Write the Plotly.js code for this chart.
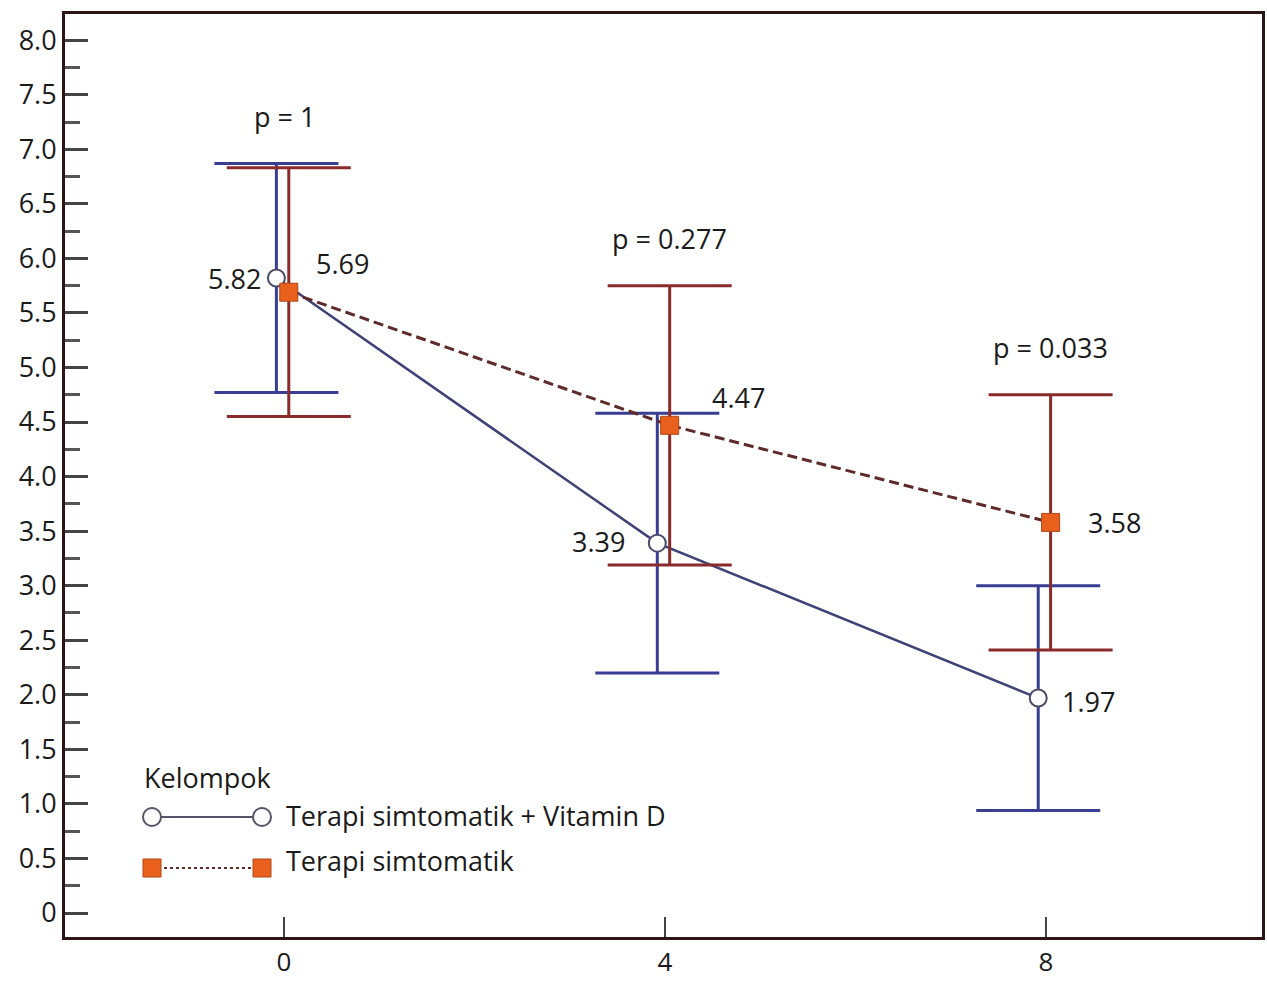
<!DOCTYPE html>
<html>
<head>
<meta charset="utf-8">
<script src="https://cdn.plot.ly/plotly-3.0.1.min.js"></script>
<style>html,body{margin:0;padding:0;background:#fff}#chart{width:1267px;height:982px}</style>
</head>
<body>
<div id="chart"></div>
<script>
// ---- data ----
var weeks = [0, 4, 8];
var groupNames = ["Terapi simtomatik + Vitamin D", "Terapi simtomatik"];
var meanVitD = [5.82, 3.39, 1.97];
var sdVitD = [1.05, 1.19, 1.03];
var meanSym = [5.69, 4.47, 3.58];
var sdSym = [1.14, 1.28, 1.17];
var pValues = ["p = 1", "p = 0.277", "p = 0.033"];
var yTickVals = [0, 0.5, 1, 1.5, 2, 2.5, 3, 3.5, 4, 4.5, 5, 5.5, 6, 6.5, 7, 7.5, 8];
var yTickText = ["0", "0.5", "1.0", "1.5", "2.0", "2.5", "3.0", "3.5", "4.0", "4.5", "5.0", "5.5", "6.0", "6.5", "7.0", "7.5", "8.0"];
var legendTitle = "Kelompok";

// ---- styling ----
var FONT = "Open Sans, Lato, sans-serif";
var FS = 27;
var blueOff = -0.08, orangeOff = 0.05;
var xBlue = weeks.map(function (w) { return w + blueOff; });
var xOrange = weeks.map(function (w) { return w + orangeOff; });
var blueBar = "#3a3d94", orangeBar = "#8a2b2b";
var blueLine = "#3e4275", orangeLine = "#5e2a2a";
var orangeFill = "#e8601c";

var traces = [
  {
    x: xBlue, y: meanVitD, name: groupNames[0], type: "scatter", mode: "lines+markers",
    line: { color: blueLine, width: 2.5 },
    marker: { symbol: "circle", size: 17, color: "#ffffff", line: { color: "#4a4a6a", width: 2 } },
    error_y: { type: "data", array: sdVitD, visible: true, color: blueBar, thickness: 3, width: 62 },
    showlegend: false, hoverinfo: "x+y"
  },
  {
    x: xOrange, y: meanSym, name: groupNames[1], type: "scatter", mode: "lines+markers",
    line: { color: orangeLine, width: 3, dash: "10px,5px" },
    marker: { symbol: "square", size: 18, color: orangeFill, line: { color: "#b0461a", width: 1 } },
    error_y: { type: "data", array: sdSym, visible: true, color: orangeBar, thickness: 3, width: 62 },
    showlegend: false, hoverinfo: "x+y"
  }
];

var annotations = [];
var txtFont = { family: FONT, size: FS, color: "#1a1a1a" };
// value labels
var blueShift = [[-13, 0, "right"], [-30, 2, "right"], [22, -3, "left"]];
var orangeShift = [[25, 29, "left"], [40, 28, "left"], [35, 0, "left"]];
meanVitD.forEach(function (v, i) {
  annotations.push({ x: xBlue[i], y: v, xref: "x", yref: "y", text: v.toFixed(2), showarrow: false,
    xanchor: blueShift[i][2], yanchor: "middle", xshift: blueShift[i][0], yshift: blueShift[i][1], font: txtFont });
});
meanSym.forEach(function (v, i) {
  annotations.push({ x: xOrange[i], y: v, xref: "x", yref: "y", text: v.toFixed(2), showarrow: false,
    xanchor: orangeShift[i][2], yanchor: "middle", xshift: orangeShift[i][0], yshift: orangeShift[i][1], font: txtFont });
});
// p-values above the highest error bar
weeks.forEach(function (w, i) {
  var top = Math.max(meanVitD[i] + sdVitD[i], meanSym[i] + sdSym[i]);
  annotations.push({ x: w + (i === 0 ? 0 : 0.05), y: top, xref: "x", yref: "y", text: pValues[i], showarrow: false,
    xanchor: "center", yanchor: "middle", yshift: 47, font: txtFont });
});

// ---- custom legend (paper coordinates) ----
function px(x) { return (x - 65) / 1197; }
function py(y) { return (937 - y) / 923; }
annotations.push({ x: px(142), y: py(777), xref: "paper", yref: "paper", text: legendTitle, showarrow: false,
  xanchor: "left", yanchor: "middle", font: txtFont });
annotations.push({ x: px(284), y: py(815), xref: "paper", yref: "paper", text: groupNames[0], showarrow: false,
  xanchor: "left", yanchor: "middle", font: txtFont });
annotations.push({ x: px(284), y: py(860), xref: "paper", yref: "paper", text: groupNames[1], showarrow: false,
  xanchor: "left", yanchor: "middle", font: txtFont });

var shapes = [
  { type: "line", xref: "paper", yref: "paper", x0: px(152), x1: px(262), y0: py(817), y1: py(817),
    line: { color: "#55556a", width: 2 } },
  { type: "line", xref: "paper", yref: "paper", x0: px(152), x1: px(262), y0: py(868), y1: py(868),
    line: { color: orangeLine, width: 2, dash: "dot" } }
];
[152, 262].forEach(function (cx) {
  shapes.push({ type: "circle", xref: "paper", yref: "paper", xsizemode: "pixel", ysizemode: "pixel",
    xanchor: px(cx), yanchor: py(817), x0: -9, x1: 9, y0: -9, y1: 9,
    fillcolor: "#ffffff", line: { color: "#55556a", width: 2 } });
  shapes.push({ type: "rect", xref: "paper", yref: "paper", xsizemode: "pixel", ysizemode: "pixel",
    xanchor: px(cx), yanchor: py(868), x0: -9, x1: 9, y0: -9, y1: 9,
    fillcolor: orangeFill, line: { color: "#b0461a", width: 1 } });
});

var layout = {
  width: 1267, height: 982,
  margin: { l: 65, r: 5, t: 14, b: 45, pad: 0 },
  paper_bgcolor: "#ffffff", plot_bgcolor: "#ffffff",
  font: { family: FONT, size: FS, color: "#1a1a1a" },
  showlegend: false,
  xaxis: {
    range: [-2.3, 10.27], tickvals: weeks, ticktext: weeks.map(String),
    ticks: "inside", ticklen: 20, tickwidth: 2, tickcolor: "#444",
    showgrid: false, zeroline: false,
    showline: true, mirror: true, linecolor: "#2b1515", linewidth: 3,
    tickfont: { family: FONT, size: 26, color: "#1a1a1a" }
  },
  yaxis: {
    range: [-0.22, 8.24], tickvals: yTickVals, ticktext: yTickText,
    ticks: "inside", ticklen: 23, tickwidth: 3, tickcolor: "#444",
    minor: { tickmode: "linear", tick0: 0.25, dtick: 0.5, ticks: "inside", ticklen: 15, tickwidth: 3, tickcolor: "#555", showgrid: false },
    showgrid: false, zeroline: false,
    showline: true, mirror: true, linecolor: "#2b1515", linewidth: 3,
    tickfont: { family: FONT, size: FS, color: "#1a1a1a" }
  },
  annotations: annotations,
  shapes: shapes
};

Plotly.newPlot("chart", traces, layout, { displayModeBar: false, staticPlot: true });
</script>
</body>
</html>
